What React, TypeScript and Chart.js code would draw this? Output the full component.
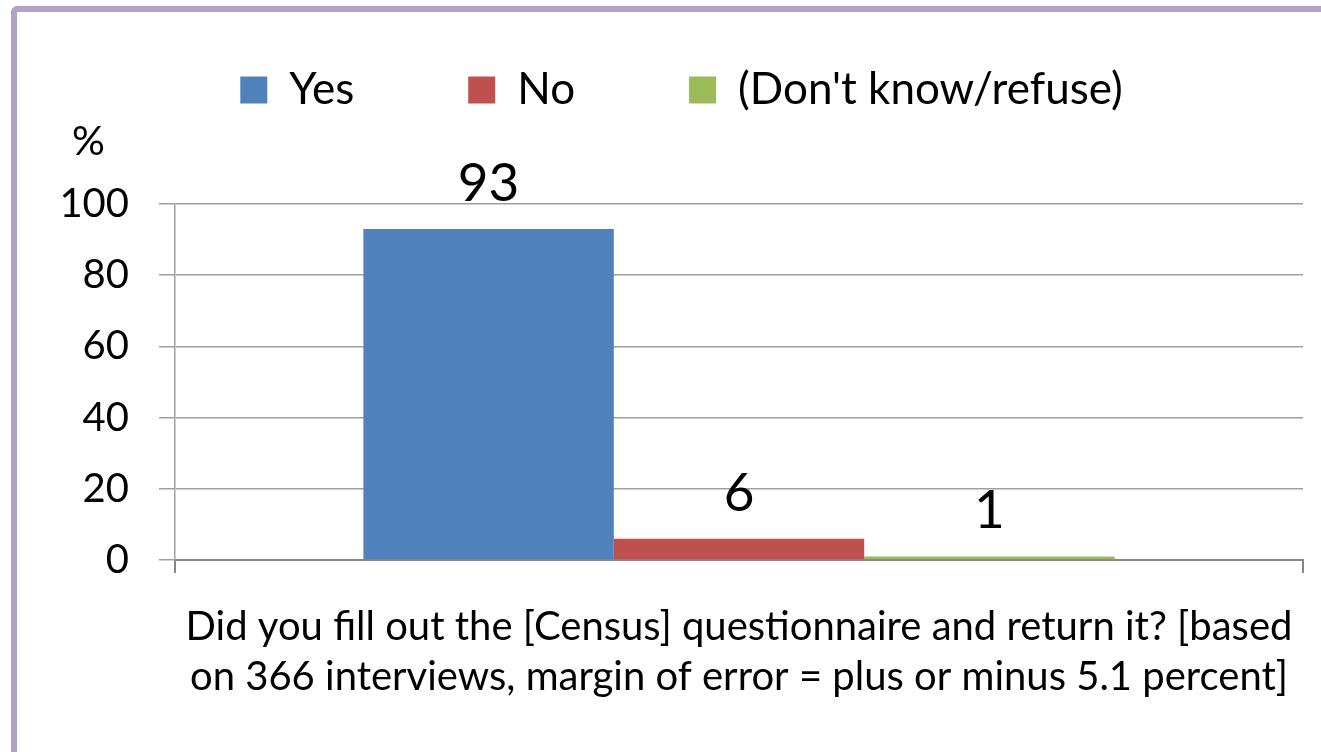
import React, { useEffect, useRef } from "react";
import { Chart, registerables } from "chart.js";

Chart.register(...registerables);

const categories = ["Census questionnaire"];
const seriesNames = ["Yes", "No", "(Don't know/refuse)"];
const yesValues = [93];
const noValues = [6];
const dontKnowValues = [1];
const seriesColors = ["#4F81BD", "#C0504D", "#9BBB59"];
const yAxisUnit = "%";
const yMin = 0;
const yMax = 100;
const yStep = 20;
const xTitleLines = [
  "Did you fill out the [Census] questionnaire and return it? [based",
  "on 366 interviews, margin of error = plus or minus 5.1 percent]",
];

const FONT = 'Lato, "Noto Sans", sans-serif';

const valueLabelPlugin = {
  id: "barValueLabels",
  afterDatasetsDraw(chart: any) {
    const ctx = chart.ctx;
    ctx.save();
    ctx.font = `53px ${FONT}`;
    ctx.fillStyle = "#000";
    ctx.textAlign = "center";
    ctx.textBaseline = "alphabetic";
    chart.data.datasets.forEach((ds: any, i: number) => {
      const meta = chart.getDatasetMeta(i);
      meta.data.forEach((bar: any, j: number) => {
        ctx.fillText(String(ds.data[j]), bar.x, bar.y - 28);
      });
    });
    ctx.restore();
  },
};

// place the unit title ("%") just above the y-axis labels
const unitTitlePlugin = {
  id: "unitTitlePlacement",
  afterLayout(chart: any) {
    const tb = chart.titleBlock;
    if (!tb) return;
    const w = tb.right - tb.left;
    tb.left = chart.chartArea.left - 103;
    tb.right = tb.left + w;
  },
};

export default function App() {
  const canvasRef = useRef<HTMLCanvasElement | null>(null);

  useEffect(() => {
    if (!canvasRef.current) return;
    Chart.defaults.font.family = FONT;
    const values = [yesValues, noValues, dontKnowValues];
    const chart = new Chart(canvasRef.current, {
      type: "bar",
      data: {
        labels: categories,
        datasets: seriesNames.map((name, i) => ({
          label: name,
          data: values[i],
          backgroundColor: seriesColors[i],
          borderWidth: 0,
          barPercentage: 1,
          categoryPercentage: 0.666,
        })),
      },
      options: {
        animation: false,
        responsive: false,
        maintainAspectRatio: false,
        layout: { padding: { left: 60, right: 18, top: -46, bottom: 0 } },
        plugins: {
          legend: {
            display: true,
            position: "top",
            align: "center",
            labels: {
              boxWidth: 27,
              boxHeight: 27,
              padding: 114,
              color: "#000",
              font: { size: 44, family: FONT },
            },
          },
          title: {
            display: true,
            text: yAxisUnit,
            align: "start",
            weight: 500,
            color: "#000",
            font: { size: 41, family: FONT, lineHeight: 1, weight: "normal" },
            padding: { top: -1, bottom: 42 },
          },
          tooltip: { enabled: false },
        },
        scales: {
          x: {
            grid: {
              display: true,
              drawOnChartArea: false,
              drawTicks: true,
              tickLength: 13,
              color: "#868686",
              lineWidth: 2,
            },
            border: { color: "#868686", width: 2 },
            ticks: { display: false },
            title: {
              display: true,
              text: xTitleLines,
              color: "#000",
              font: { size: 40, family: FONT, lineHeight: 1.25 },
              padding: { top: 0, bottom: 50 },
            },
            afterFit(scale: any) {
              scale.height = 192;
            },
          },
          y: {
            min: yMin,
            max: yMax,
            ticks: {
              stepSize: yStep,
              padding: 30,
              color: "#000",
              font: { size: 40, family: FONT },
            },
            grid: {
              color: "#A0A0A0",
              lineWidth: 1.5,
              tickLength: 16,
              drawTicks: true,
            },
            border: { color: "#A0A0A0", width: 1.5 },
            afterFit(scale: any) {
              scale.width = 115;
            },
          },
        },
      },
      plugins: [valueLabelPlugin, unitTitlePlugin],
    });
    return () => chart.destroy();
  }, []);

  return (
    <div
      style={{
        position: "fixed",
        left: 0,
        top: 0,
        width: 1321,
        height: 752,
        overflow: "hidden",
        background: "#fff",
      }}
    >
      <div
        style={{
          position: "absolute",
          left: 11,
          top: 6,
          width: 1400,
          height: 800,
          border: "6px solid #B3A2C7",
          borderRadius: 6,
          boxSizing: "border-box",
        }}
      />
      <canvas
        ref={canvasRef}
        width={1321}
        height={752}
        style={{ position: "absolute", left: 0, top: 0 }}
      />
    </div>
  );
}
